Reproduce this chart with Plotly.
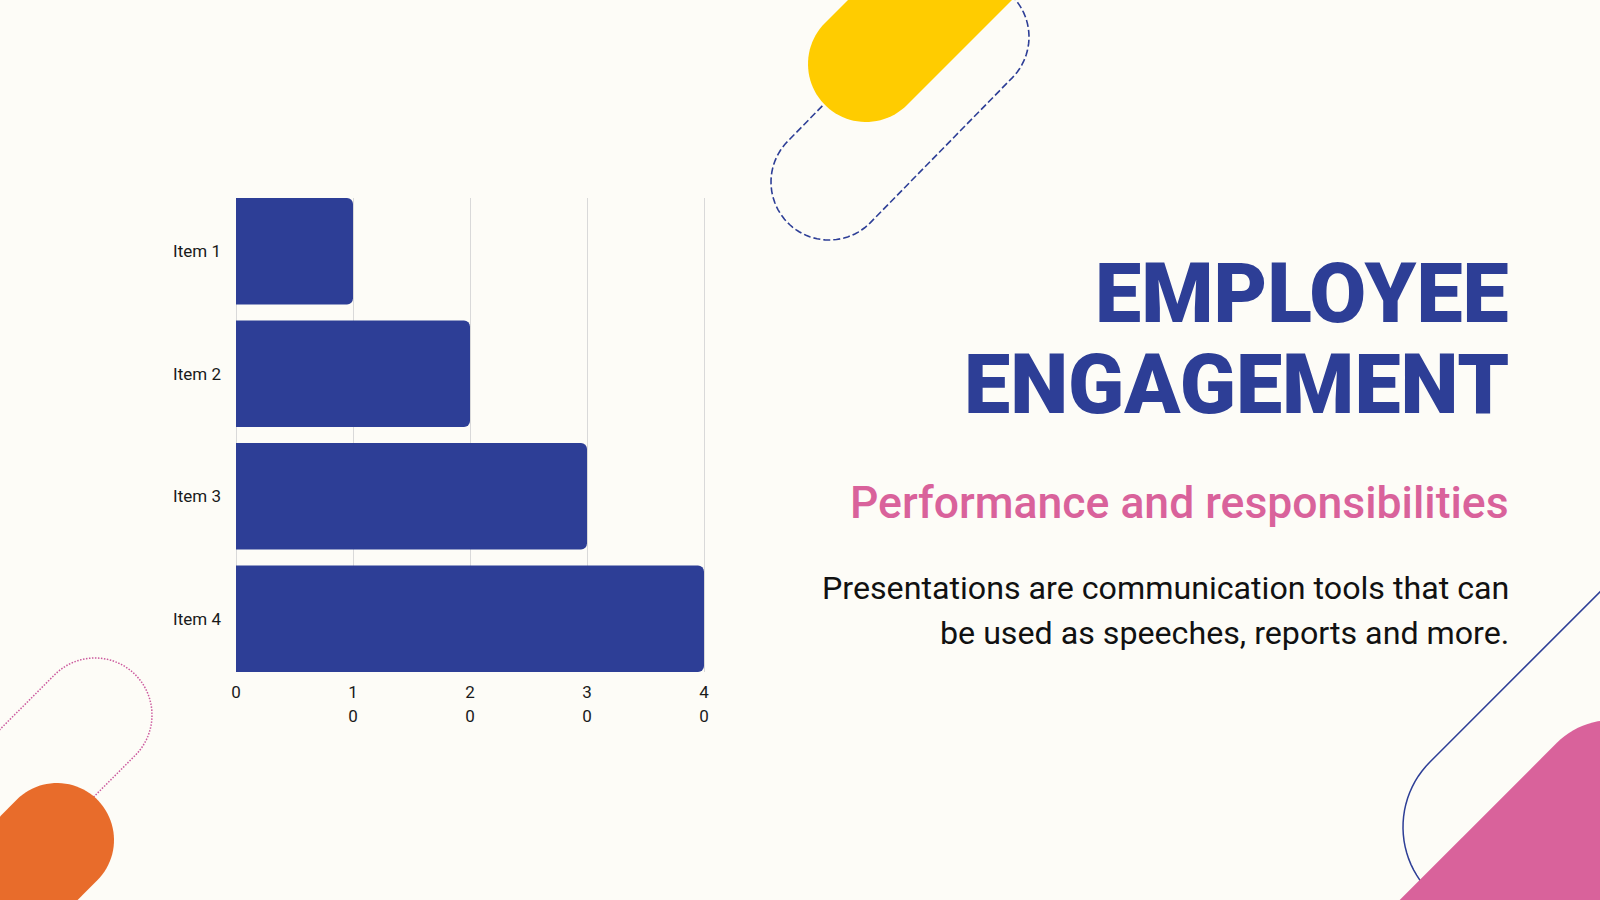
#%%
import numpy as np
import plotly.graph_objects as go

W, H = 1600, 900

#%% data
items = ["Item 1", "Item 2", "Item 3", "Item 4"]
values = [10, 20, 30, 40]
tick_vals = [0, 10, 20, 30, 40]
tick_text = ["0", "1<br>0", "2<br>0", "3<br>0", "4<br>0"]

title_lines = ["EMPLOYEE", "ENGAGEMENT"]
subtitle = "Performance and responsibilities"
body_lines = ["Presentations are communication tools that can",
              "be used as speeches, reports and more."]

NAVY = "#2D3E96"
PINK = "#D9629B"
YELLOW = "#FFCC00"
ORANGE = "#E86C2B"
BG = "#FDFCF7"


#%% helper: pixel -> paper
def px(x, y):
    return x / W, 1 - y / H


def capsule(c1, c2, r, n=48):
    (x1, y1), (x2, y2) = c1, c2
    ang = np.arctan2(y2 - y1, x2 - x1)
    pts = []
    for t in np.linspace(ang - np.pi / 2, ang + np.pi / 2, n):
        pts.append((x2 + r * np.cos(t), y2 + r * np.sin(t)))
    for t in np.linspace(ang + np.pi / 2, ang + 3 * np.pi / 2, n):
        pts.append((x1 + r * np.cos(t), y1 + r * np.sin(t)))
    coords = [px(x, y) for x, y in pts]
    return "M " + " L ".join(f"{a:.5f},{b:.5f}" for a, b in coords) + " Z"


def spaced(label, size=17):
    # wraps each line in a smaller span so the line spacing follows the larger base font
    return "<br>".join(f'<span style="font-size:{size}px">{p}</span>' for p in label.split("<br>"))


#%% figure
fig = go.Figure()
fig.add_trace(go.Bar(
    x=values, y=items, orientation="h",
    marker=dict(color=NAVY, line=dict(width=0), cornerradius=6),
    hoverinfo="x+y",
))

# a bit of room past 40 so its gridline is not dropped at the edge
x_max = 40.25
x0, x1 = 236, 236 + (704 - 236) * x_max / 40
y0, y1 = 198, 672
fig.update_layout(
    width=W, height=H,
    margin=dict(l=0, r=0, t=0, b=0),
    paper_bgcolor=BG, plot_bgcolor="rgba(0,0,0,0)",
    showlegend=False,
    bargap=0.13,
    font=dict(family="Roboto", color="#1A1A1A"),
    xaxis=dict(
        domain=[x0 / W, x1 / W], range=[0, x_max],
        tickvals=tick_vals, ticktext=[spaced(t) for t in tick_text],
        tickfont=dict(size=18.6, color="#1A1A1A"),
        showgrid=True, gridcolor="#D9D9D9", gridwidth=1,
        zeroline=True, zerolinecolor="#D9D9D9", zerolinewidth=1,
        showline=False, ticks="",
        ticklabelstandoff=6, automargin=False, fixedrange=True,
    ),
    yaxis=dict(
        domain=[1 - y1 / H, 1 - y0 / H], range=[3.435, -0.435],
        tickfont=dict(size=17, color="#1A1A1A"),
        showgrid=False, zeroline=False, showline=False, ticks="",
        ticklabelstandoff=14, automargin=False, fixedrange=True,
    ),
)

#%% decorative shapes (drawn in pixel space, converted to paper)
shapes = [
    # dashed outline top middle, under the yellow pill
    dict(path=capsule((829, 182), (971, 37), 58),
         line=dict(color=NAVY, width=1.6, dash="7px,3px"), fillcolor="rgba(0,0,0,0)"),
    dict(path=capsule((866, 64), (1166, -236), 58),
         line=dict(width=0), fillcolor=YELLOW),
    # dotted pink outline bottom left, under orange pill
    dict(path=capsule((95, 715), (-205, 1015), 57),
         line=dict(color="#CC5A9E", width=1.5, dash="1.5px,1.5px"), fillcolor="rgba(0,0,0,0)"),
    dict(path=capsule((57, 840), (-243, 1140), 57),
         line=dict(width=0), fillcolor=ORANGE),
    # thin navy outline bottom right, under pink pill
    dict(path=capsule((1495, 827), (1795, 527), 92),
         line=dict(color=NAVY, width=1.5), fillcolor="rgba(0,0,0,0)"),
    dict(path=capsule((1612, 798), (1312, 1098), 78),
         line=dict(width=0), fillcolor=PINK),
]
for s in shapes:
    fig.add_shape(type="path", xref="paper", yref="paper", layer="below", **s)

#%% text on the right
right = 1511 / W
fig.add_annotation(text=title_lines[0], x=right, y=1 - 293 / H, xref="paper", yref="paper",
                   xanchor="right", yanchor="middle", showarrow=False,
                   font=dict(family="Roboto", size=82.5, color=NAVY, weight=900))
fig.add_annotation(text=title_lines[1], x=right, y=1 - 384 / H, xref="paper", yref="paper",
                   xanchor="right", yanchor="middle", showarrow=False,
                   font=dict(family="Roboto", size=82.5, color=NAVY, weight=900))
fig.add_annotation(text=subtitle, x=right, y=1 - 503 / H, xref="paper", yref="paper",
                   xanchor="right", yanchor="middle", showarrow=False,
                   font=dict(family="Roboto", size=44.5, color=PINK, weight=500))
fig.add_annotation(text=body_lines[0], x=right, y=1 - 588 / H, xref="paper", yref="paper",
                   xanchor="right", yanchor="middle", showarrow=False,
                   font=dict(family="Roboto", size=32.2, color="#111111"))
fig.add_annotation(text=body_lines[1], x=right, y=1 - 633 / H, xref="paper", yref="paper",
                   xanchor="right", yanchor="middle", showarrow=False,
                   font=dict(family="Roboto", size=32.2, color="#111111"))

# the page's default body margin would shift the figure by 8px
fig.write_html("out.html", config={"displayModeBar": False},
               post_script="document.body.style.margin='0';")
